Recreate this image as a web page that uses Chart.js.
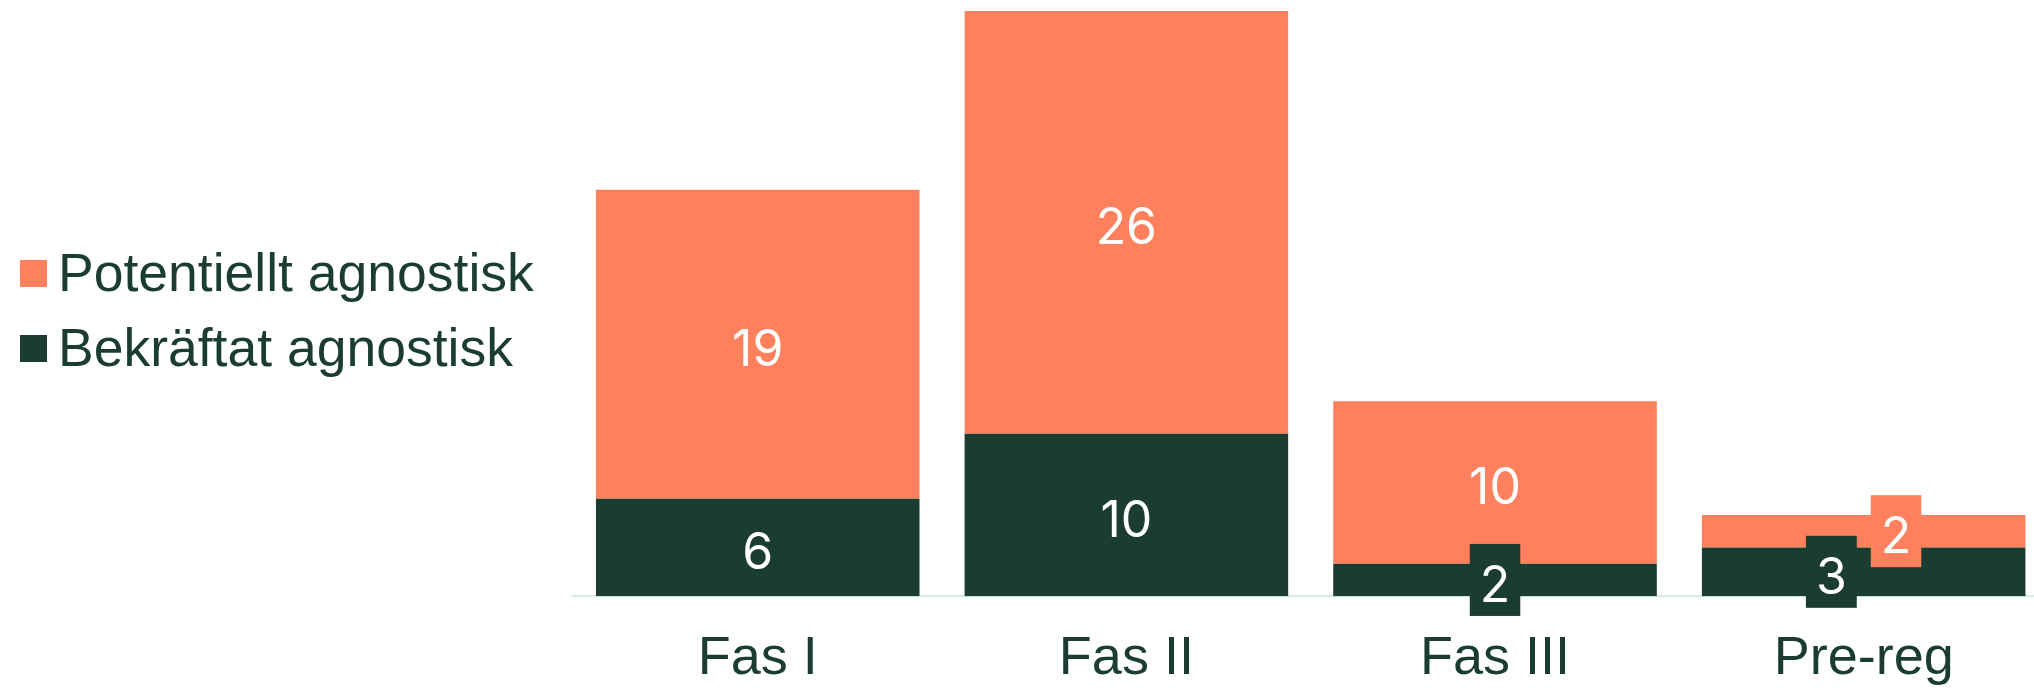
<!DOCTYPE html>
<html><head><meta charset="utf-8">
<script src="https://cdn.jsdelivr.net/npm/chart.js@4.4.1/dist/chart.umd.min.js"></script>
<style>
html,body{margin:0;padding:0;background:#fff;overflow:hidden;width:2034px;height:688px;}
#wrap{width:2048px;height:688px;position:relative;}
</style></head><body>
<div id="wrap"><canvas id="c" width="2048" height="688"></canvas></div>
<script>
const categories = ['Fas I', 'Fas II', 'Fas III', 'Pre-reg'];
const confirmedValues = [6, 10, 2, 3];
const potentialValues = [19, 26, 10, 2];
const seriesNames = ['Bekräftat agnostisk', 'Potentiellt agnostisk'];
const yMax = 36;

const DARK = '#1b3d2f', ORANGE = '#ff805c', TEXT = '#1b3d2f', AXIS = '#d2ebe4';
const SANS = '"Liberation Sans", Arial, sans-serif';

const labelPlugin = {
  id: 'segLabels',
  afterDatasetsDraw(chart) {
    const ctx = chart.ctx;
    ctx.save();
    ctx.font = '400 50px Inter, "Noto Sans", sans-serif';
    const padX = 10, boxH = 72, gap = 14;
    const n = chart.data.labels.length;
    for (let i = 0; i < n; i++) {
      const boxes = [];
      chart.data.datasets.forEach((ds, di) => {
        const el = chart.getDatasetMeta(di).data[i];
        const txt = String(ds.data[i]);
        const w = ctx.measureText(txt).width + 2 * padX;
        boxes.push({x: el.x, cy: (el.y + el.base) / 2, w, h: boxH, txt, color: ds.backgroundColor});
      });
      for (let a = 0; a < boxes.length; a++) for (let b = a + 1; b < boxes.length; b++) {
        const A = boxes[a], B = boxes[b];
        if (Math.abs(A.cy - B.cy) < (A.h + B.h) / 2 && Math.abs(A.x - B.x) < (A.w + B.w) / 2) {
          const half = ((A.w + B.w) / 2 + gap) / 2;
          const mid = (A.x + B.x) / 2;
          A.x = mid - half; B.x = mid + half;
        }
      }
      boxes.forEach(b => {
        ctx.fillStyle = b.color;
        ctx.fillRect(b.x - b.w / 2, b.cy - b.h / 2, b.w, b.h);
        ctx.fillStyle = '#ffffff';
        ctx.textAlign = 'center';
        ctx.textBaseline = 'middle';
        ctx.fillText(b.txt, b.x, b.cy + 7);
      });
    }
    ctx.restore();
  }
};

const legendPlugin = {
  id: 'sideLegend',
  afterDraw(chart) {
    const ctx = chart.ctx;
    ctx.save();
    const ds = chart.data.datasets.slice().reverse();
    const rowCenters = [273.5, 348.5];
    ctx.font = '53.5px ' + SANS;
    ctx.textAlign = 'left';
    ctx.textBaseline = 'alphabetic';
    ds.forEach((d, k) => {
      const cy = rowCenters[k];
      ctx.fillStyle = d.backgroundColor;
      ctx.fillRect(20, cy - 13.5, 27, 27);
      ctx.fillStyle = TEXT;
      ctx.fillText(d.label, 58, cy + 17);
    });
    ctx.restore();
  }
};

new Chart(document.getElementById('c'), {
  type: 'bar',
  data: {
    labels: categories,
    datasets: [
      {label: seriesNames[0], data: confirmedValues, backgroundColor: DARK, stack: 's'},
      {label: seriesNames[1], data: potentialValues, backgroundColor: ORANGE, stack: 's'}
    ]
  },
  options: {
    responsive: false,
    animation: false,
    devicePixelRatio: 1,
    layout: {padding: {left: 573.4, right: 0, top: 11, bottom: -33.2}},
    datasets: {bar: {categoryPercentage: 1, barPercentage: 0.8777, borderWidth: 0}},
    plugins: {legend: {display: false}, tooltip: {enabled: false}},
    scales: {
      x: {
        stacked: true,
        grid: {display: false, drawTicks: false},
        border: {display: true, color: AXIS, width: 2},
        ticks: {color: TEXT, font: {family: SANS, size: 54, lineHeight: 1}, padding: 35.5}
      },
      y: {stacked: true, display: false, min: 0, max: yMax}
    }
  },
  plugins: [labelPlugin, legendPlugin]
});
</script>
</body></html>
